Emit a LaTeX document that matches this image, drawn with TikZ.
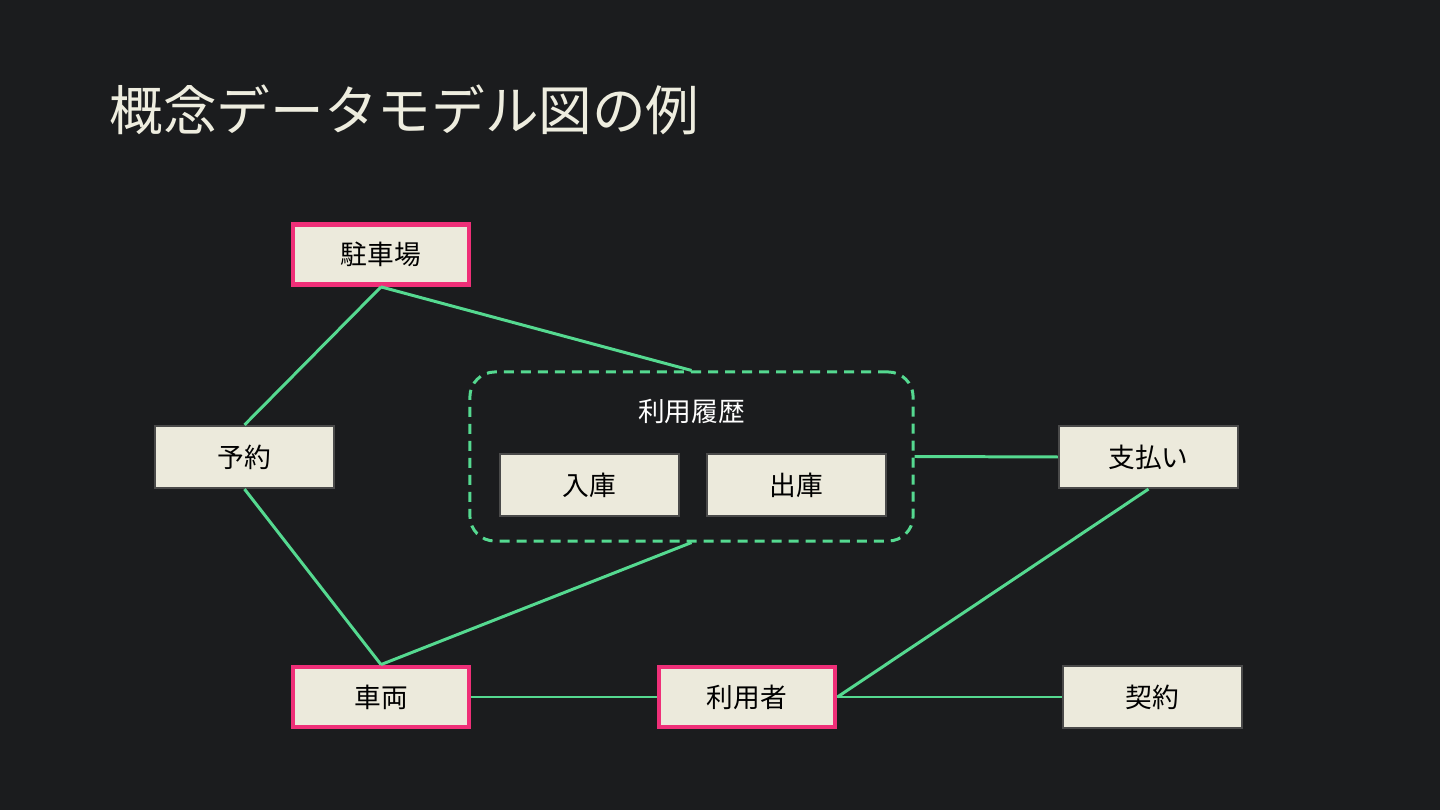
\documentclass[tikz,border=0pt]{standalone}
\usepackage{fontspec}
\setmainfont{Noto Sans CJK JP}
\usetikzlibrary{positioning}
\definecolor{bgdark}{HTML}{1B1C1E}
\definecolor{boxfill}{HTML}{ECEADC}
\definecolor{boxline}{HTML}{4A4A4A}
\definecolor{keypink}{HTML}{EF2F78}
\definecolor{linkgreen}{HTML}{55D990}
\definecolor{titlecol}{HTML}{EEEDDF}

\tikzset{
    entity/.style={draw=boxline, line width=0.6pt, fill=boxfill, text=black,
        minimum width=1.79cm, minimum height=0.62cm, inner sep=0pt,
        font=\fontsize{7.6pt}{9pt}\selectfont},
    keyentity/.style={entity, draw=keypink, line width=1.35pt,
        minimum width=1.76cm, minimum height=0.6cm},
    link/.style={linkgreen, line width=0.85pt},
    groupbox/.style={draw=linkgreen, line width=0.85pt, dashed,
        dash pattern=on 0.1cm off 0.07cm, rounded corners=0.25cm,
        minimum width=4.43cm, minimum height=1.69cm, inner sep=0pt}
}

\begin{document}
\begin{tikzpicture}[x=0.01cm, y=-0.01cm]
\fill[bgdark] (0,0) rectangle (1440,810);
\useasboundingbox (0,0) rectangle (1440,810);

\node[anchor=west, text=titlecol, inner sep=0pt,
    font=\fontsize{15.25pt}{18pt}\selectfont] (title) at (109,110) {概念データモデル図の例};

% entities
\node[keyentity] (parking) at (381,254.5) {駐車場};
\node[entity] (reserve) at (244.5,457) {予約};
\node[groupbox] (history) at (691.5,456.5) {};
\node[text=white, font=\fontsize{7.6pt}{9pt}\selectfont] (histlabel) at (691.5,411) {利用履歴};
\node[entity] (inbound) at (589.5,485) {入庫};
\node[entity] (outbound) at (796.5,485) {出庫};
\node[entity] (payment) at (1148.5,457) {支払い};
\node[keyentity] (vehicle) at (381,697) {車両};
\node[keyentity] (user) at (747,697) {利用者};
\node[entity] (contract) at (1152.5,697) {契約};

% relations
\draw[link] (parking.south) -- (reserve.north);
\draw[link] (parking.south) -- (history.north);
\draw[link] (reserve.south) -- (vehicle.north);
\draw[link] (history.south) -- (vehicle.north);
\draw[link] (history.east) -- (payment.west);
\draw[link] (payment.south) -- (user.east);
\draw[link] (vehicle.east) -- (user.west);
\draw[link] (user.east) -- (contract.west);
\end{tikzpicture}
\end{document}
